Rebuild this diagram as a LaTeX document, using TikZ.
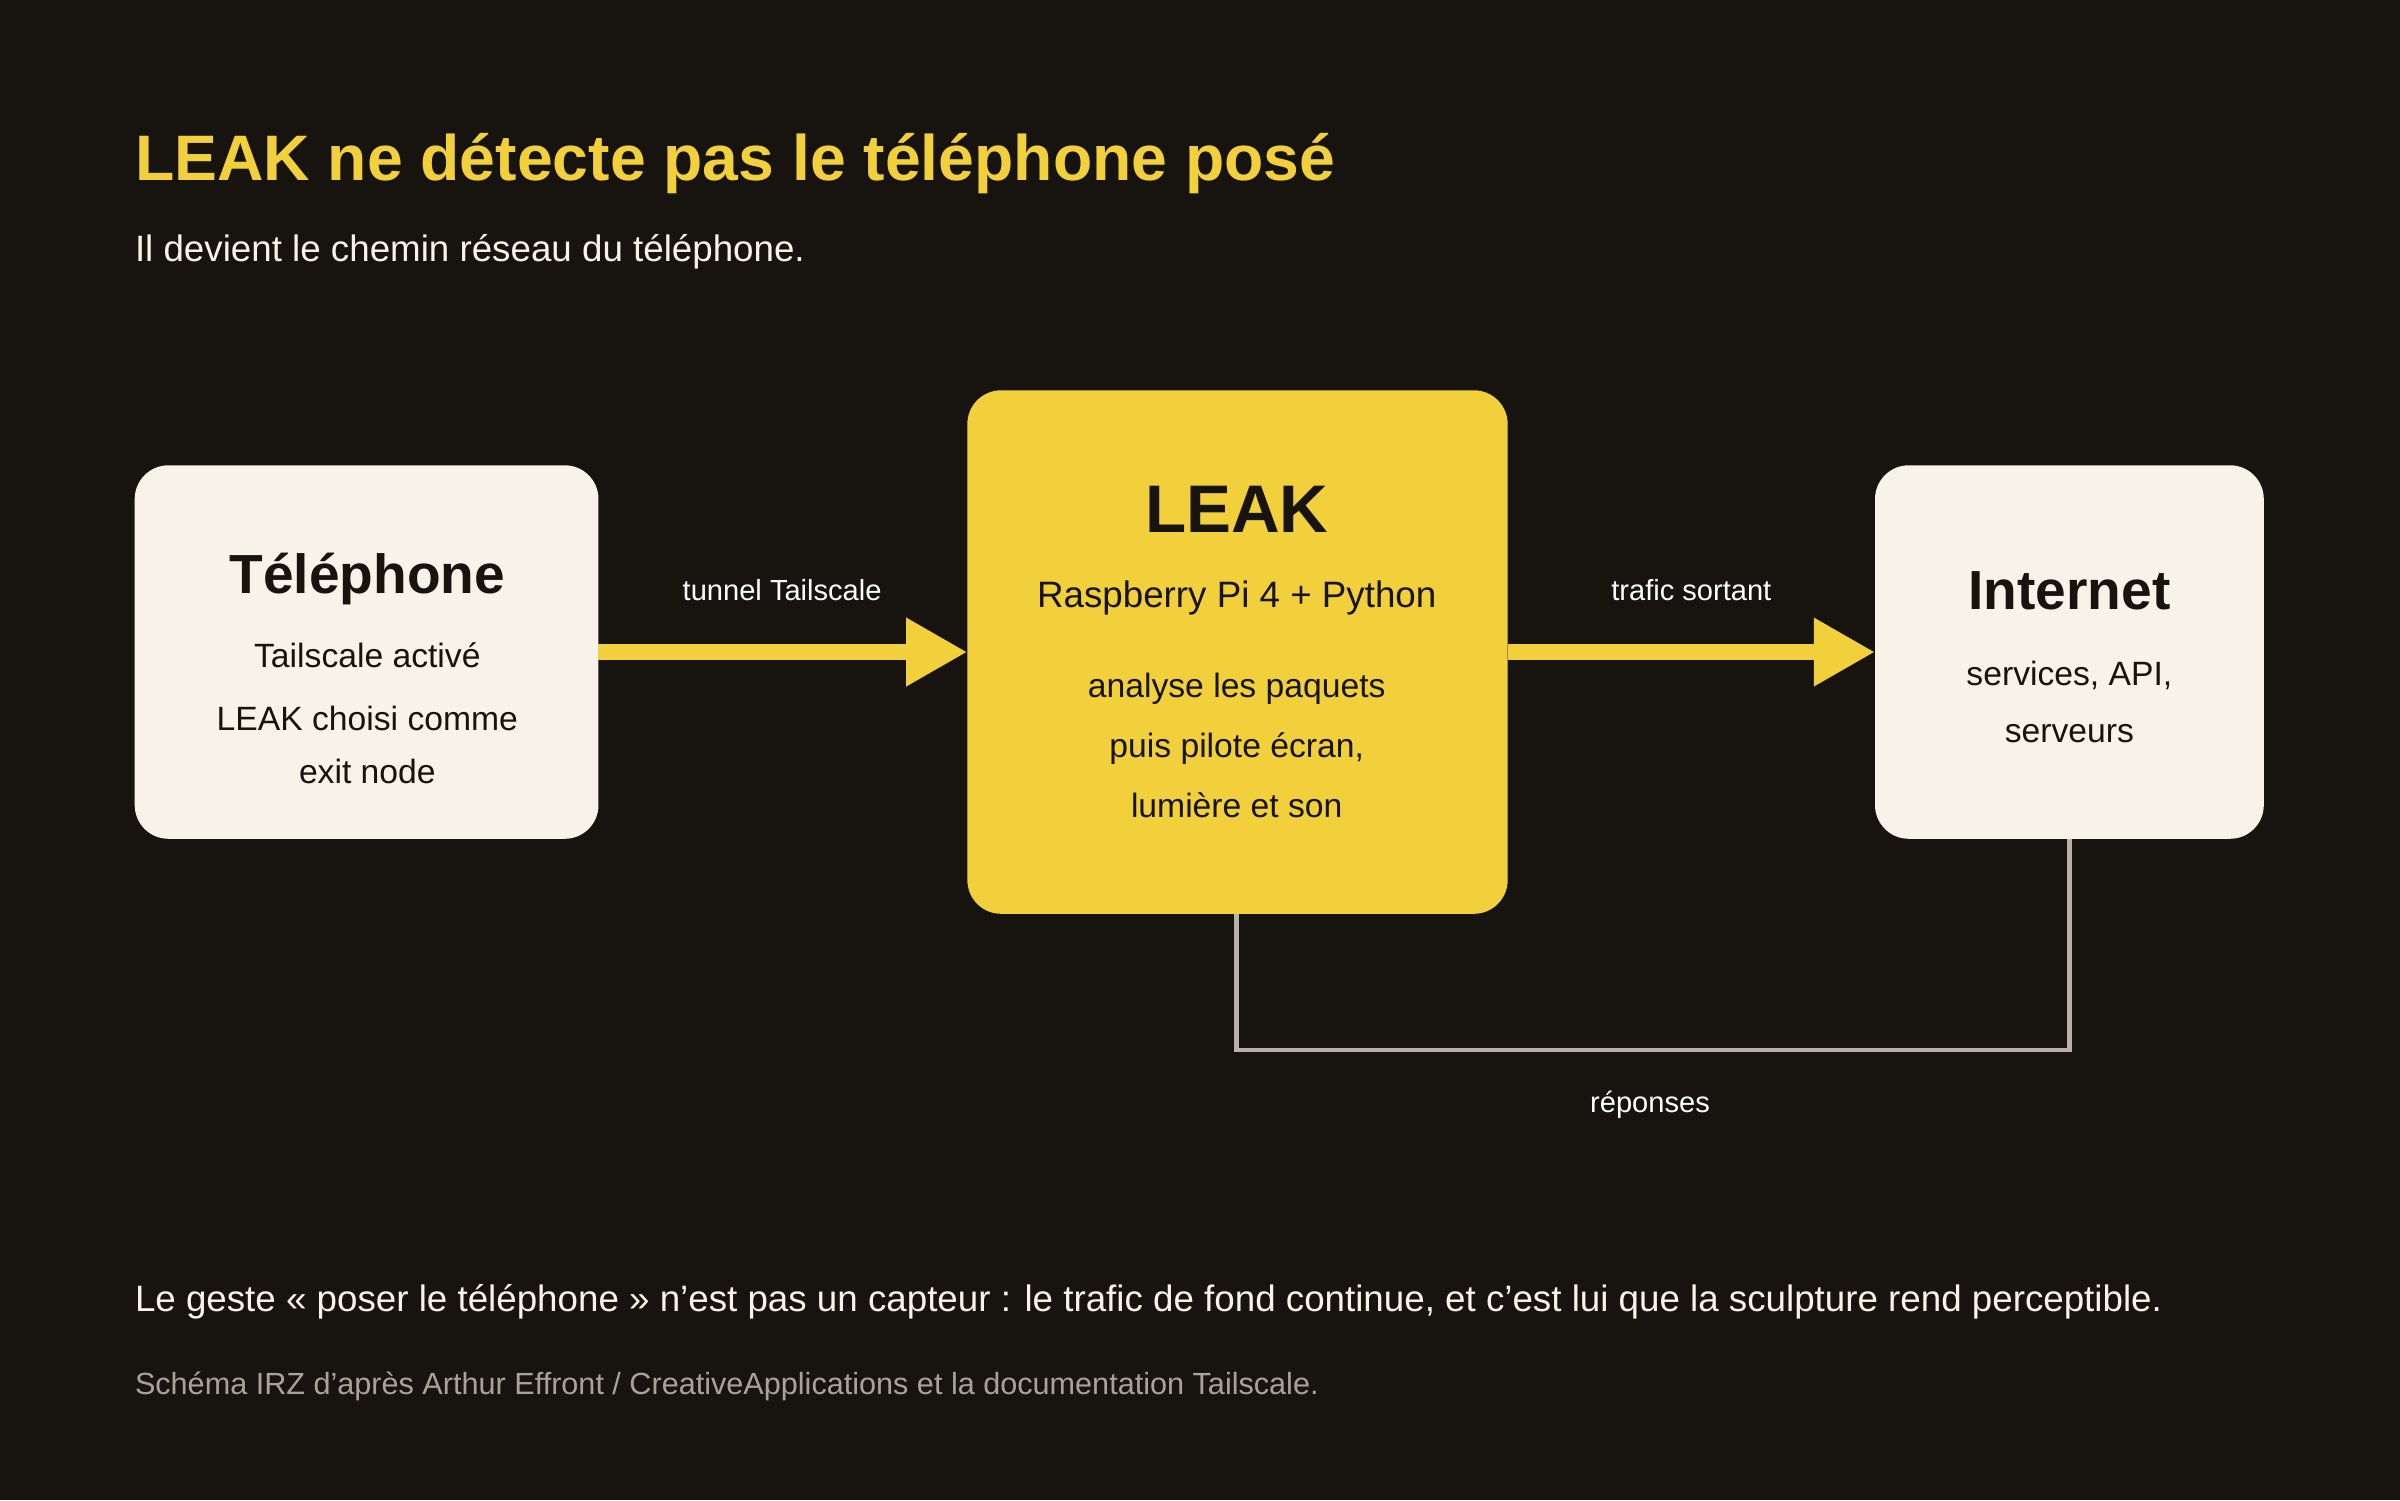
\documentclass[tikz,border=0pt]{standalone}
\usepackage{fontspec}
\setmainfont{Liberation Sans}
\usetikzlibrary{arrows.meta}
\definecolor{bg}{HTML}{17130F}
\definecolor{yel}{HTML}{F2D03B}
\definecolor{cream}{HTML}{F7F3E8}
\definecolor{ink}{HTML}{17130F}
\definecolor{gline}{HTML}{B8B2A6}
\definecolor{foot}{HTML}{A8A39A}
\newcommand{\fs}[1]{\fontsize{#1}{#1}\selectfont}
\begin{document}
\begin{tikzpicture}[x=1pt,y=-1pt,
  box/.style={draw=none,rounded corners=22pt},
  txt/.style={anchor=base,text=ink,inner sep=0},
  lbl/.style={anchor=base,text=white,inner sep=0,font=\fs{19}},
  flow/.style={draw=yel,line width=10pt,-{Triangle[length=40pt,width=42pt]}},
  back/.style={draw=gline,line width=3pt}]
\fill[bg] (0,0) rectangle (1568,980);
\useasboundingbox (0,0) rectangle (1568,980);
\fill[cream,rounded corners=22pt] (88,304) rectangle (391,548);
\fill[yel,rounded corners=22pt] (632,255) rectangle (985,597);
\fill[cream,rounded corners=22pt] (1225,304) rectangle (1479,548);
\coordinate (tR) at (391,426); \coordinate (lL) at (632,426);
\coordinate (lR) at (985,426); \coordinate (iL) at (1225,426);
\coordinate (lB) at (808,597); \coordinate (iB) at (1352,548);
\draw[flow] (tR) -- (lL);
\draw[flow] (lR) -- (iL);
\draw[back] (lB) |- (1352,686) -- (iB);
\node[anchor=base west,inner sep=0,text=yel,font=\fs{42}\bfseries] (title) at (88,118) {LEAK ne détecte pas le téléphone posé};
\node[anchor=base west,inner sep=0,text=cream,font=\fs{24}] (sub) at (88,171) {Il devient le chemin réseau du téléphone.};
\node[txt,font=\fs{36}\bfseries] (t1) at (240,388) {Téléphone};
\node[txt,font=\fs{22}] (t2) at (240,436) {Tailscale activé};
\node[txt,font=\fs{22}] (t3) at (240,477) {LEAK choisi comme};
\node[txt,font=\fs{22}] (t4) at (240,512) {exit node};
\node[txt,font=\fs{44}\bfseries] (l1) at (808,348) {LEAK};
\node[txt,font=\fs{24}] (l2) at (808,397) {Raspberry Pi 4 + Python};
\node[txt,font=\fs{22}] (l3) at (808,456) {analyse les paquets};
\node[txt,font=\fs{22}] (l4) at (808,495) {puis pilote écran,};
\node[txt,font=\fs{22}] (l5) at (808,534) {lumière et son};
\node[txt,font=\fs{36}\bfseries] (i1) at (1352,398) {Internet};
\node[txt,font=\fs{22}] (i2) at (1352,448) {services, API,};
\node[txt,font=\fs{22}] (i3) at (1352,485) {serveurs};
\node[lbl] (a1) at (511,392) {tunnel Tailscale};
\node[lbl] (a2) at (1105,392) {trafic sortant};
\node[lbl] (a3) at (1078,727) {réponses};
\node[anchor=base west,inner sep=0,text=cream,font=\fs{24}] (note) at (88,857) {Le geste « poser le téléphone » n’est pas un capteur : le trafic de fond continue, et c’est lui que la sculpture rend perceptible.};
\node[anchor=base west,inner sep=0,text=foot,font=\fs{20}] (src) at (88,911) {Schéma IRZ d’après Arthur Effront / CreativeApplications et la documentation Tailscale.};
\end{tikzpicture}
\end{document}
